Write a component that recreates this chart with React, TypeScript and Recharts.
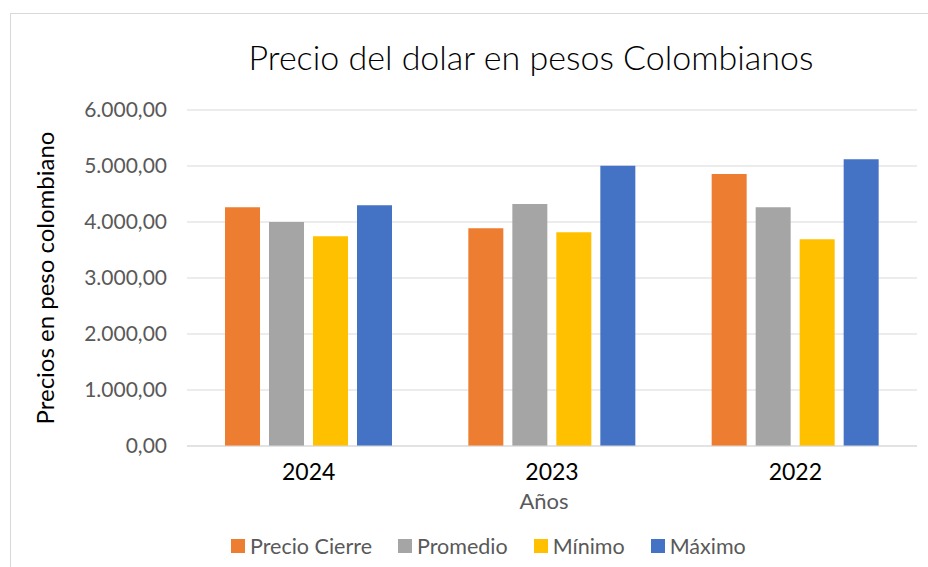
import React from "react";
import { BarChart, Bar, XAxis, YAxis, CartesianGrid, Label } from "recharts";

const years = ["2024", "2023", "2022"];
const precioCierre = [4262, 3887, 4857];
const promedio = [4000, 4321, 4262];
const minimo = [3745, 3816, 3691];
const maximo = [4298, 5005, 5119];
const yTicks = [0, 1000, 2000, 3000, 4000, 5000, 6000];

const seriesKeys = ["cierre", "promedio", "minimo", "maximo"];
const seriesNames = ["Precio Cierre", "Promedio", "Mínimo", "Máximo"];
const seriesColors = ["#ED7D31", "#A5A5A5", "#FFC000", "#4472C4"];

const data = years.map((y, i) => ({
  year: y,
  cierre: precioCierre[i],
  promedio: promedio[i],
  minimo: minimo[i],
  maximo: maximo[i],
}));

const FONT = "Lato, 'DejaVu Sans', sans-serif";

const fmt = (v: number) => {
  const s = Math.round(v).toString().replace(/\B(?=(\d{3})+(?!\d))/g, ".");
  return s + ",00";
};

export default function App() {
  return (
    <div style={{ position: "relative", width: 928, height: 567, background: "#fff", overflow: "hidden" }}>
      <style>{`body{margin:0;overflow:hidden;}`}</style>
      <div style={{ position: "absolute", left: 10, top: 13, width: 930, height: 570, border: "1px solid #d9d9d9", boxSizing: "border-box" }} />
      <div style={{ position: "absolute", left: 0, top: 36, width: 928, textAlign: "center", paddingLeft: 134, boxSizing: "border-box", fontFamily: FONT, fontWeight: 300, fontSize: 34, color: "#000" }}>
        Precio del dolar en pesos Colombianos
      </div>
      <div style={{ position: "absolute", left: 0, top: 0 }}>
        <BarChart
          width={928}
          height={567}
          data={data}
          margin={{ top: 110, right: 11, bottom: 91, left: 0 }}
          barSize={35}
          barGap={9}
        >
          <CartesianGrid vertical={false} stroke="#d9d9d9" strokeWidth={1} />
          <XAxis
            dataKey="year"
            axisLine={{ stroke: "#d9d9d9" }}
            tickLine={false}
            tickMargin={12}
            tick={{ fontFamily: FONT, fontSize: 23, fill: "#000" }}
            height={30}
          >
            <Label value="Años" position="bottom" offset={17} dx={-8} style={{ fontFamily: FONT, fontSize: 22, fill: "#595959" }} />
          </XAxis>
          <YAxis
            domain={[0, 6000]}
            ticks={yTicks}
            interval={0}
            tickFormatter={fmt}
            axisLine={false}
            tickLine={false}
            tickMargin={14}
            width={187}
            tick={{ fontFamily: FONT, fontSize: 21, fill: "#595959" }}
          >
            <Label
              value="Precios en peso colombiano"
              angle={-90}
              position="insideLeft"
              offset={45}
              style={{ textAnchor: "middle", fontFamily: FONT, fontSize: 24, fill: "#000" }}
            />
          </YAxis>
          {seriesKeys.map((k, i) => (
            <Bar key={k} dataKey={k} name={seriesNames[i]} fill={seriesColors[i]} isAnimationActive={false} />
          ))}
        </BarChart>
      </div>
      <div style={{ position: "absolute", left: 231, top: 533, display: "flex", justifyContent: "flex-start", fontFamily: FONT, fontSize: 21.5, color: "#595959" }}>
        {seriesNames.map((n, i) => (
          <div key={n} style={{ display: "flex", alignItems: "center", marginRight: i < seriesNames.length - 1 ? 26 : 0 }}>
            <span style={{ display: "inline-block", width: 14, height: 14, background: seriesColors[i], marginRight: 5 }} />
            <span>{n}</span>
          </div>
        ))}
      </div>
    </div>
  );
}
